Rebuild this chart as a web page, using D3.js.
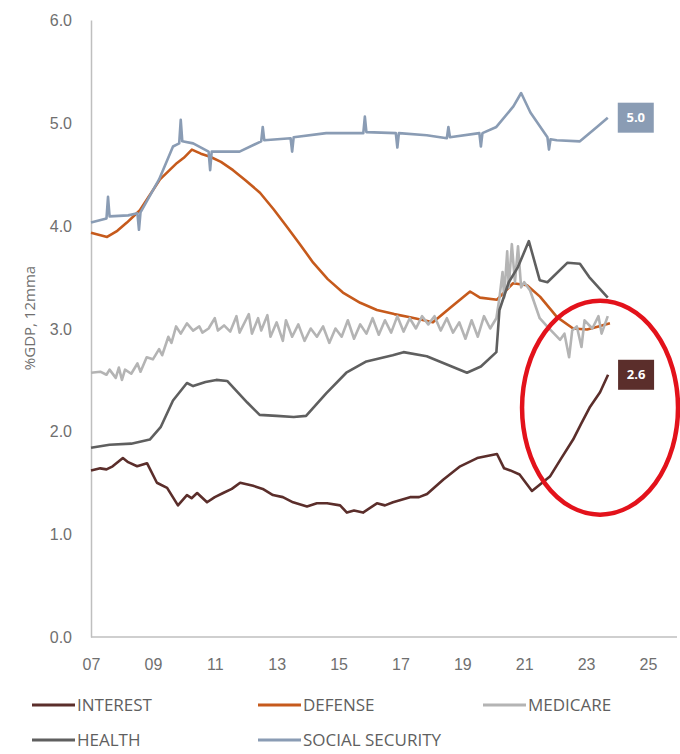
<!DOCTYPE html>
<html>
<head>
<meta charset="utf-8">
<script src="https://cdn.jsdelivr.net/npm/d3@7"></script>
<style>
  body { margin: 0; background: #fff; }
  svg { display: block; font-family: "Open Sans", sans-serif; }
</style>
</head>
<body>
<svg id="chart" width="680" height="754"></svg>
<script>
// values, [year, %GDP]
const interest = [[2007.0,1.62],[2007.3,1.64],[2007.5,1.63],[2007.7,1.66],[2008.03,1.74],[2008.2,1.70],[2008.49,1.66],[2008.81,1.69],[2009.13,1.50],[2009.46,1.45],[2009.81,1.28],[2010.1,1.38],[2010.25,1.35],[2010.43,1.40],[2010.75,1.31],[2011.0,1.36],[2011.27,1.40],[2011.55,1.44],[2011.82,1.50],[2012.24,1.47],[2012.55,1.44],[2012.88,1.38],[2013.2,1.36],[2013.53,1.31],[2013.98,1.27],[2014.3,1.30],[2014.63,1.30],[2015.05,1.28],[2015.27,1.21],[2015.5,1.23],[2015.79,1.21],[2016.24,1.30],[2016.5,1.28],[2016.76,1.31],[2017.31,1.36],[2017.6,1.36],[2017.86,1.39],[2018.38,1.53],[2018.93,1.66],[2019.48,1.74],[2019.8,1.76],[2020.12,1.78],[2020.35,1.64],[2020.55,1.62],[2020.85,1.58],[2021.25,1.42],[2021.5,1.48],[2021.83,1.56],[2022.2,1.74],[2022.58,1.92],[2022.85,2.08],[2023.13,2.24],[2023.45,2.38],[2023.71,2.55]];
const defense = [[2007.0,3.93],[2007.52,3.89],[2007.85,3.95],[2008.16,4.03],[2008.58,4.15],[2009.23,4.45],[2009.78,4.61],[2010.0,4.66],[2010.26,4.74],[2010.55,4.70],[2010.85,4.67],[2011.2,4.62],[2011.59,4.54],[2012.0,4.44],[2012.46,4.32],[2012.9,4.16],[2013.33,3.99],[2013.75,3.82],[2014.18,3.64],[2014.65,3.48],[2015.14,3.35],[2015.7,3.25],[2016.24,3.18],[2016.8,3.14],[2017.31,3.11],[2018.05,3.06],[2018.6,3.20],[2019.25,3.36],[2019.57,3.30],[2020.12,3.28],[2020.64,3.44],[2021.09,3.42],[2021.51,3.31],[2022.06,3.11],[2022.58,3.00],[2023.03,2.99],[2023.4,3.02],[2023.77,3.05]];
const medicare = [[2007.0,2.57],[2007.3,2.58],[2007.5,2.55],[2007.6,2.60],[2007.8,2.52],[2007.9,2.62],[2008.0,2.50],[2008.1,2.60],[2008.3,2.56],[2008.5,2.66],[2008.6,2.58],[2008.8,2.72],[2009.0,2.70],[2009.2,2.80],[2009.3,2.74],[2009.5,2.92],[2009.6,2.86],[2009.75,3.02],[2009.9,2.95],[2010.1,3.05],[2010.3,2.98],[2010.5,3.02],[2010.6,2.96],[2010.8,3.00],[2011.0,3.10],[2011.1,2.98],[2011.3,3.03],[2011.5,2.97],[2011.7,3.12],[2011.8,2.96],[2012.0,3.08],[2012.1,3.14],[2012.2,2.95],[2012.4,3.10],[2012.5,2.98],[2012.7,3.13],[2012.8,2.92],[2013.0,3.06],[2013.2,2.88],[2013.3,3.08],[2013.5,2.92],[2013.7,3.04],[2013.9,2.88],[2014.1,3.00],[2014.3,2.92],[2014.5,3.02],[2014.7,2.86],[2014.9,3.00],[2015.1,2.92],[2015.3,3.08],[2015.5,2.90],[2015.7,3.04],[2015.9,2.95],[2016.1,3.10],[2016.3,2.94],[2016.5,3.08],[2016.7,2.96],[2016.9,3.12],[2017.1,2.97],[2017.3,3.10],[2017.5,3.00],[2017.7,3.12],[2017.9,3.04],[2018.1,3.12],[2018.3,2.98],[2018.5,3.10],[2018.7,2.96],[2018.9,3.06],[2019.1,2.90],[2019.3,3.08],[2019.5,2.92],[2019.7,3.12],[2019.9,3.00],[2020.1,3.10],[2020.2,3.30],[2020.3,3.55],[2020.35,3.30],[2020.45,3.75],[2020.5,3.40],[2020.6,3.82],[2020.7,3.45],[2020.8,3.80],[2020.9,3.40],[2021.0,3.45],[2021.19,3.37],[2021.5,3.10],[2021.74,3.02],[2022.16,2.89],[2022.3,2.95],[2022.45,2.72],[2022.55,2.98],[2022.7,3.02],[2022.85,2.82],[2022.95,3.08],[2023.2,3.00],[2023.4,3.12],[2023.5,2.95],[2023.7,3.12]];
const health = [[2007.0,1.84],[2007.6,1.87],[2008.3,1.88],[2008.9,1.92],[2009.25,2.04],[2009.65,2.30],[2010.1,2.47],[2010.3,2.44],[2010.7,2.48],[2011.05,2.50],[2011.4,2.49],[2012.05,2.28],[2012.45,2.16],[2013.0,2.15],[2013.55,2.14],[2013.95,2.15],[2014.6,2.37],[2015.25,2.57],[2015.9,2.68],[2016.75,2.74],[2017.1,2.77],[2017.85,2.73],[2018.5,2.65],[2019.15,2.57],[2019.6,2.63],[2020.1,2.77],[2020.2,3.18],[2020.5,3.45],[2020.8,3.60],[2021.15,3.85],[2021.5,3.47],[2021.75,3.45],[2022.4,3.64],[2022.8,3.63],[2023.1,3.50],[2023.7,3.30]];
const socialSecurity = [[2007.0,4.03],[2007.5,4.07],[2007.55,4.28],[2007.6,4.09],[2008.2,4.10],[2008.5,4.12],[2008.55,3.96],[2008.6,4.13],[2009.2,4.45],[2009.65,4.77],[2009.85,4.80],[2009.9,5.03],[2009.95,4.82],[2010.3,4.80],[2010.8,4.72],[2010.85,4.54],[2010.9,4.72],[2011.8,4.72],[2012.5,4.82],[2012.55,4.96],[2012.6,4.83],[2013.45,4.85],[2013.5,4.72],[2013.55,4.86],[2014.6,4.90],[2015.8,4.90],[2015.85,5.06],[2015.9,4.91],[2016.85,4.90],[2016.9,4.76],[2016.95,4.90],[2017.85,4.88],[2018.5,4.85],[2018.55,4.96],[2018.6,4.86],[2019.55,4.90],[2019.6,4.77],[2019.65,4.90],[2020.1,4.96],[2020.65,5.16],[2020.9,5.29],[2021.2,5.10],[2021.75,4.86],[2021.8,4.74],[2021.85,4.84],[2022.05,4.83],[2022.8,4.82],[2023.35,4.96],[2023.7,5.05]];

const seriesNames = ['INTEREST', 'DEFENSE', 'MEDICARE', 'HEALTH', 'SOCIAL SECURITY'];
const seriesColors = ['#5b2e2b', '#c65a1c', '#b4b4b4', '#5f5f5f', '#8a9cb4'];
const xTicks = [2007, 2009, 2011, 2013, 2015, 2017, 2019, 2021, 2023, 2025];
const yTicks = [0, 1, 2, 3, 4, 5, 6];
const endLabels = [{series: 'SOCIAL SECURITY', text: '5.0'}, {series: 'INTEREST', text: '2.6'}];
// the red ring drawn round the interest jump, in data units
const ring = {cx: 2023.45, cy: 2.23, rx: 2.52, ry: 1.04};

const allSeries = [interest, defense, medicare, health, socialSecurity];

const svg = d3.select('#chart');
const x = d3.scaleLinear().domain([2007, 2025]).range([91, 648]);
const y = d3.scaleLinear().domain([0, 6]).range([637, 20]);

// axes
const yAxis = d3.axisLeft(y).tickValues(yTicks).tickFormat(d3.format('.1f')).tickSize(0).tickPadding(19);
svg.append('g')
    .attr('transform', `translate(${x(2007)},0)`)
    .call(yAxis)
    .call(g => g.select('.domain').attr('stroke', '#bfbfbf').attr('stroke-width', 1.5))
    .call(g => g.selectAll('text').attr('fill', '#6f6f6f').style('font-size', '16px').attr('dy', '0.35em'));

const xAxis = d3.axisBottom(x).tickValues(xTicks).tickFormat(d => String(d).slice(2)).tickSize(0).tickPadding(22);
svg.append('g')
    .attr('transform', `translate(0,${y(0)})`)
    .call(xAxis)
    .call(g => g.select('.domain').attr('d', `M${x(2007)},0H677`).attr('stroke', '#bfbfbf').attr('stroke-width', 1.5))
    .call(g => g.selectAll('text').attr('fill', '#6f6f6f').style('font-size', '16px'));

svg.append('text')
    .attr('transform', `translate(35,318) rotate(-90)`)
    .attr('text-anchor', 'middle')
    .attr('fill', '#6f6f6f')
    .style('font-size', '15px')
    .text('%GDP, 12mma');

// lines
const line = d3.line().x(d => x(d[0])).y(d => y(d[1]));
svg.append('g').selectAll('path')
    .data(allSeries)
    .join('path')
        .attr('d', line)
        .attr('fill', 'none')
        .attr('stroke', (d, i) => seriesColors[i])
        .attr('stroke-width', 2.6)
        .attr('stroke-linejoin', 'round');

// end-value boxes
const boxes = svg.append('g').selectAll('g')
    .data(endLabels)
    .join('g')
        .attr('transform', d => {
            let s = allSeries[seriesNames.indexOf(d.series)];
            let last = s[s.length - 1];
            return `translate(${x(last[0]) + 10},${y(last[1])})`;
        });
boxes.append('rect')
    .attr('y', -15)
    .attr('width', 36)
    .attr('height', 30)
    .attr('fill', d => seriesColors[seriesNames.indexOf(d.series)]);
boxes.append('text')
    .attr('x', 18)
    .attr('dy', '0.35em')
    .attr('text-anchor', 'middle')
    .attr('fill', '#fff')
    .style('font-size', '13px')
    .style('font-weight', 'bold')
    .text(d => d.text);

// red ring
svg.append('ellipse')
    .attr('cx', x(ring.cx))
    .attr('cy', y(ring.cy))
    .attr('rx', x(ring.cx + ring.rx) - x(ring.cx))
    .attr('ry', y(ring.cy - ring.ry) - y(ring.cy))
    .attr('fill', 'none')
    .attr('stroke', '#e3121b')
    .attr('stroke-width', 4.5);

// legend
const legendPos = [[32, 705], [258, 705], [483, 705], [32, 740], [258, 740]];
const legend = svg.append('g').selectAll('g')
    .data(seriesNames)
    .join('g')
        .attr('transform', (d, i) => `translate(${legendPos[i][0]},${legendPos[i][1]})`);
legend.append('line')
    .attr('x1', 0).attr('x2', 43)
    .attr('stroke', (d, i) => seriesColors[i])
    .attr('stroke-width', 3);
legend.append('text')
    .attr('x', 45)
    .attr('dy', '0.35em')
    .attr('fill', '#5f5f5f')
    .style('font-size', '17px')
    .text(d => d);
</script>
</body>
</html>
